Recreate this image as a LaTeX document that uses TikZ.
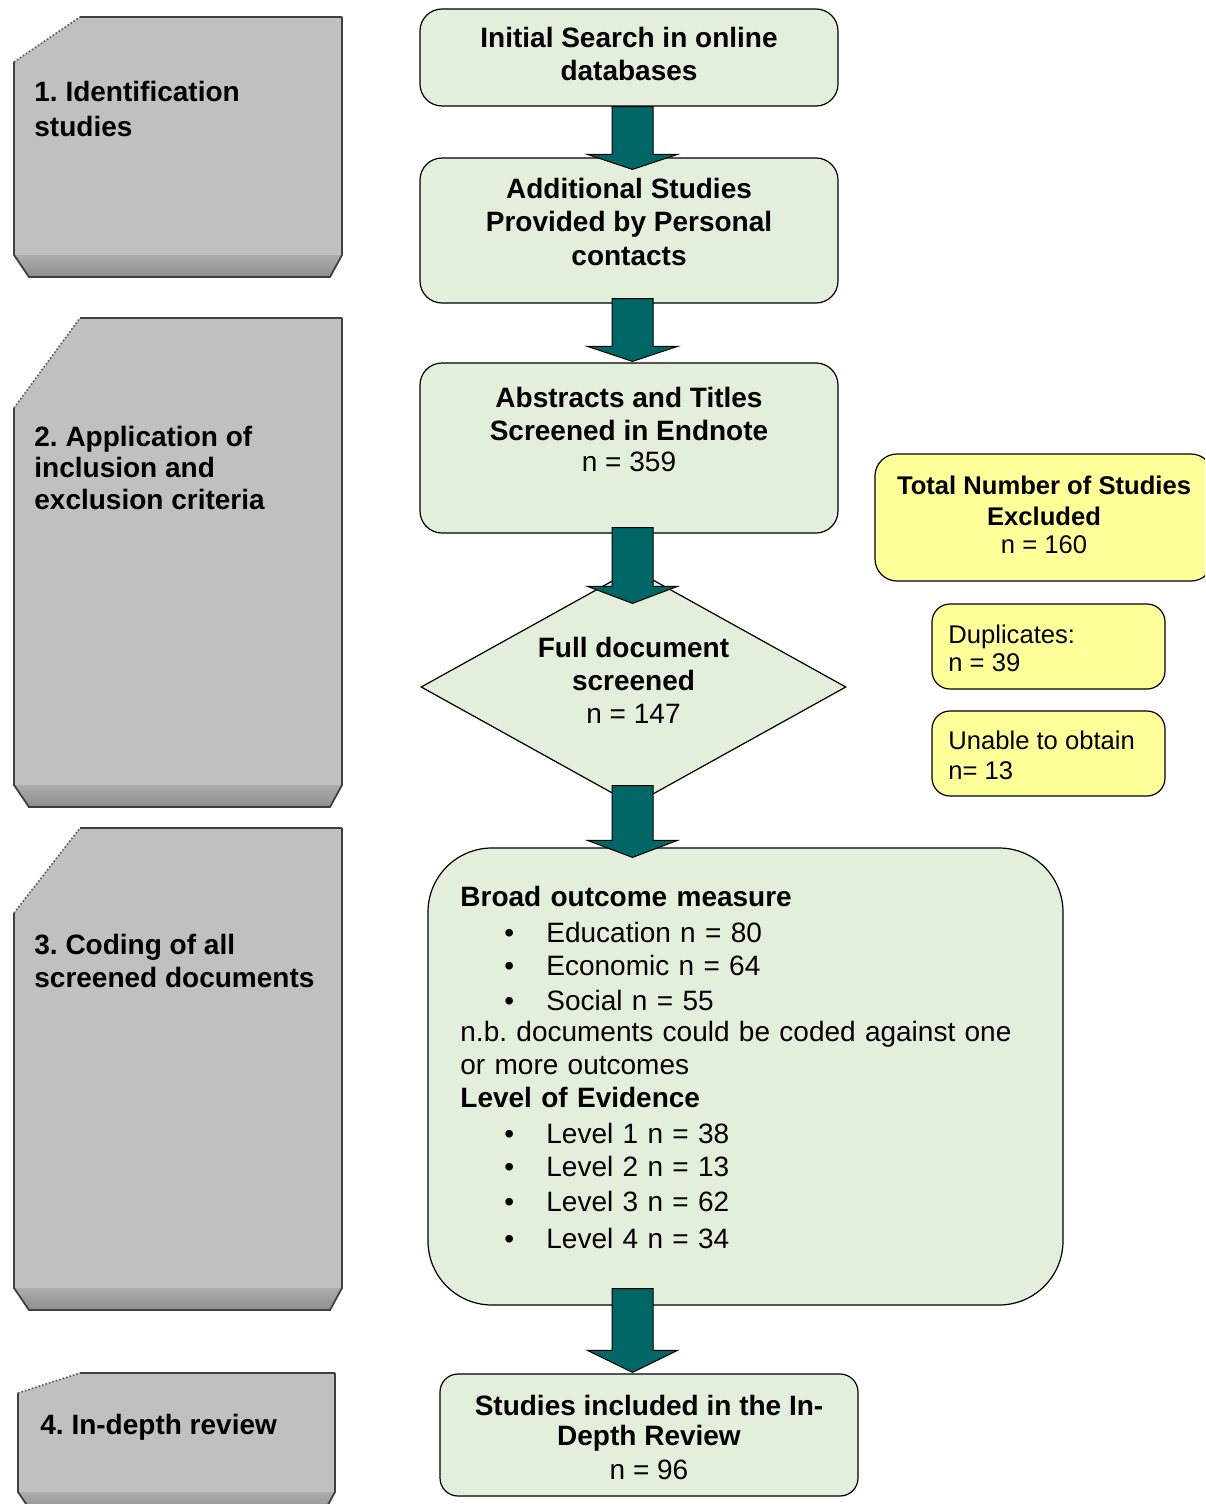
\documentclass[tikz,border=0pt]{standalone}
\usepackage{fontspec}
\setmainfont{Liberation Sans}
\usetikzlibrary{calc,shapes.geometric}
\definecolor{gfill}{RGB}{227,239,218}
\definecolor{yfill}{RGB}{255,255,153}
\definecolor{tealA}{RGB}{0,102,102}
\definecolor{pgray}{RGB}{192,192,192}
\definecolor{bandtop}{RGB}{172,172,172}
\definecolor{bandbot}{RGB}{142,142,142}

% grey stage panel: #1 left, #2 top, #3 right, #4 band top, #5 cut height, #6 cut width
\newcommand\gpanel[6]{%
  \fill[pgray] (#1,#2+#5) -- (#1+#6,#2) -- (#3,#2) -- (#3,#4) -- (#1,#4) -- cycle;
  \shade[top color=bandtop,bottom color=bandbot] (#1,#4) -- (#3,#4) -- (#3-12,#4+22) -- (#1+15,#4+22) -- cycle;
  \draw[pedge] (#1+#6,#2) -- (#3,#2);
  \draw[pedge] (#1,#2+#5) -- (#1,#4) -- (#1+15,#4+22) -- (#3-12,#4+22) -- (#3,#4) -- (#3,#2);
  \draw[pcut] (#1,#2+#5) -- (#1+#6,#2);
}
% block arrow: #1 start coordinate, #2 tip coordinate, #3 head height
\newcommand\blockarrow[3]{%
  \filldraw[barrow] ($#1+(-20.5,0)$) -- ($#2+(-20.5,-#3)$) -- ($#2+(-45,-#3)$) -- #2
    -- ($#2+(45,-#3)$) -- ($#2+(20.5,-#3)$) -- ($#1+(20.5,0)$) -- cycle;}
\newcommand\bul{\hspace*{22pt}\makebox[21pt][l]{•}}

\begin{document}
\frenchspacing
\begin{tikzpicture}[x=0.5pt,y=-0.5pt,
  gbox/.style={draw=black, line width=0.6pt, fill=gfill, rounded corners=11pt, inner sep=0pt},
  ybox/.style={draw=black, line width=0.6pt, fill=yfill, rounded corners=9pt, inner sep=0pt},
  dia/.style={diamond, draw=black, line width=0.6pt, fill=gfill, inner sep=0pt},
  txt/.style={inner sep=0pt, align=center, font=\bfseries\fontsize{14}{16.5}\selectfont},
  ytxt/.style={inner sep=0pt, align=left, font=\fontsize{12.8}{15}\selectfont},
  ptxt/.style={inner sep=0pt, anchor=north west, align=left, font=\bfseries\fontsize{14}{16.5}\selectfont},
  barrow/.style={fill=tealA, draw=black, line width=0.5pt},
  pedge/.style={draw=black!75, line width=0.9pt},
  pcut/.style={draw=black!65, line width=0.8pt, densely dotted},
]
\useasboundingbox (0,0) rectangle (1205,1504);
\clip (0,0) rectangle (1205,1504);

% stage panels
\gpanel{14}{17}{342}{255}{45}{66}
\gpanel{14}{318}{342}{785}{90}{66}
\gpanel{14}{828}{342}{1288}{85}{66}
\gpanel{18}{1373}{335}{1492}{20}{62}

\node[ptxt, font=\bfseries\fontsize{14}{17.5}\selectfont] (p1) at (34,80.6) {1. Identification\\studies};
\node[ptxt, font=\bfseries\fontsize{14}{15.8}\selectfont] (p2) at (34,425.6) {2. Application of\\inclusion and\\exclusion criteria};
\node[ptxt] (p3) at (34,933.6) {3. Coding of all\\screened documents};
\node[ptxt] (p4) at (40,1413.6) {4. In-depth review};

% flow boxes
\node[gbox, minimum width=209pt, minimum height=48.5pt] (A) at (629,57.5) {};
\node[gbox, minimum width=209pt, minimum height=72.5pt] (B) at (629,230.5) {};
\node[gbox, minimum width=209pt, minimum height=85pt] (C) at (629,448) {};
\node[dia, minimum width=212.5pt, minimum height=118pt] (F) at (633.5,687) {};
\node[gbox, rounded corners=32pt, minimum width=317.5pt, minimum height=228.5pt] (D) at (745.5,1076.5) {};
\node[gbox, rounded corners=9pt, minimum width=209pt, minimum height=61pt] (E) at (649,1435) {};

\node[ybox, rounded corners=11pt, minimum width=169pt, minimum height=63.5pt] (Y1) at (1044,517.5) {};
\node[ybox, minimum width=116.5pt, minimum height=42.5pt] (Y2) at (1048.5,646.5) {};
\node[ybox, minimum width=116.5pt, minimum height=42.5pt] (Y3) at (1048.5,753.5) {};

% texts
\node[txt] (Atx) at (629,53.5) {Initial Search in online\\databases};
\node[txt, font=\bfseries\fontsize{14}{16.75}\selectfont] (Btx) at (629,221.5) {Additional Studies\\Provided by Personal\\contacts};
\node[txt] (Ctx) at (629,429) {Abstracts and Titles\\Screened in Endnote\\[-1pt]\mdseries n = 359};
\node[txt] (Ftx) at (633.5,680) {Full document\\screened\\\mdseries n = 147};
\node[txt, font=\bfseries\fontsize{14}{15}\selectfont] (Etx) at (649,1437) {Studies included in the In-\\Depth Review\\[2pt]\mdseries n = 96};
\node[txt, font=\bfseries\fontsize{12.8}{15.5}\selectfont] (Y1tx) at (1044,514.5) {Total Number of Studies\\Excluded\\[-1.5pt]\mdseries n = 160};
\node[ytxt, anchor=west, font=\fontsize{12.8}{14}\selectfont] (Y2tx) at (948,648) {Duplicates:\\n = 39};
\node[ytxt, anchor=west] (Y3tx) at (948,755) {Unable to obtain\\n= 13};
\node[inner sep=0pt, anchor=west, text width=285.5pt, align=left, font=\fontsize{14}{16.5}\selectfont] (Dtx) at (460,1067) {%
\textbf{Broad outcome measure}\\[1.5pt]
\bul Education n = 80\\
\bul Economic n = 64\\[1pt]
\bul Social n = 55\\[-1pt]
n.b. documents could be coded against one\\
or more outcomes\\
\textbf{Level of Evidence}\\[1.5pt]
\bul Level 1 n = 38\\
\bul Level 2 n = 13\\[1pt]
\bul Level 3 n = 62\\[2pt]
\bul Level 4 n = 34};

% block arrows
\coordinate (ax) at (632.5,0);
\coordinate (s1) at (A.south -| ax);
\coordinate (t1) at ($(B.north -| ax)+(0,12)$);
\coordinate (s2) at ($(B.south -| ax)+(0,-5)$);
\coordinate (t2) at ($(C.north -| ax)+(0,-1)$);
\coordinate (s3) at ($(C.south -| ax)+(0,-6)$);
\coordinate (t3) at ($(F.north -| ax)+(0,35)$);
\coordinate (s4) at ($(F.south -| ax)+(0,-20)$);
\coordinate (t4) at ($(D.north -| ax)+(0,10)$);
\coordinate (s5) at ($(D.south -| ax)+(0,-17)$);
\coordinate (t5) at ($(E.north -| ax)+(0,-1)$);
\blockarrow{(s1)}{(t1)}{15}
\blockarrow{(s2)}{(t2)}{15}
\blockarrow{(s3)}{(t3)}{17}
\blockarrow{(s4)}{(t4)}{17}
\blockarrow{(s5)}{(t5)}{22}
\end{tikzpicture}
\end{document}
